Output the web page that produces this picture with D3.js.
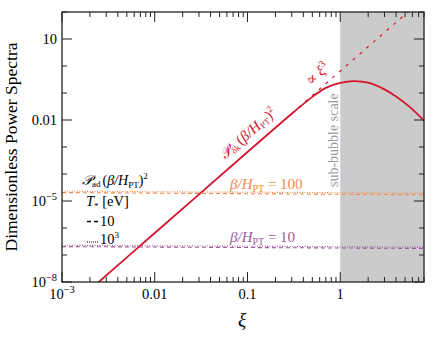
<!DOCTYPE html>
<html>
<head>
<meta charset="utf-8">
<script src="https://cdn.jsdelivr.net/npm/d3@7"></script>
<style>
  body { margin: 0; background: #fff; }
</style>
</head>
<body>
<svg width="436" height="337" font-family="'Liberation Serif', 'Times New Roman', 'DejaVu Serif', serif"></svg>
<script>
// values
var xiTicks = [1e-3, 0.01, 0.1, 1];
var xiTickLabels = ["10|-3", "0.01", "0.1", "1"];
var specTicks = [1e-8, 1e-5, 0.01, 10];
var specTickLabels = ["10|-8", "10|-5", "0.01", "10"];

// P_delta (beta/H)^2, solid red
var curveXi  = [0.002, 0.01, 0.1, 0.3, 0.5, 0.7, 1.0, 1.4, 2.0, 3.0, 4.0, 5.6, 8.0];
var curveVal = [5.2e-9, 6.5e-7, 6.5e-4, 0.0170, 0.072, 0.155, 0.235, 0.277, 0.24, 0.136, 0.074, 0.0306, 0.0095];

// asymptote ∝ xi^3, dashed red
var slopeXi  = [0.3, 5.4];
var slopeVal = [0.0176, 102];

// P_ad (beta/H)^2 flat lines, at the two ends of the range
var flatXi = [1e-3, 8];
var ad100T10   = [2.05e-5, 1.7e-5];
var ad100T1000 = [2.3e-5, 1.95e-5];
var ad10T10    = [2.05e-7, 1.75e-7];
var ad10T1000  = [2.3e-7, 1.95e-7];

var subBubbleFrom = 1;

var red = "#d5152e", orange = "#f4884c", purple = "#9c5a9b";

var svg = d3.select("svg");
var margin = {left: 62, right: 12, top: 12, bottom: 55};
var width = 436, height = 337;

var x = d3.scaleLog().domain([1e-3, 8]).range([margin.left, width - margin.right]);
var y = d3.scaleLog().domain([1e-8, 100]).range([height - margin.bottom, margin.top]);

var x0 = x.range()[0], x1 = x.range()[1], y0 = y.range()[0], y1 = y.range()[1];

svg.append("clipPath").attr("id", "clip")
  .append("rect").attr("x", x0).attr("y", y1).attr("width", x1 - x0).attr("height", y0 - y1);

var plot = svg.append("g").attr("clip-path", "url(#clip)");

// shaded sub-bubble region
plot.append("rect")
  .attr("x", x(subBubbleFrom)).attr("y", y1)
  .attr("width", x1 - x(subBubbleFrom)).attr("height", y0 - y1)
  .attr("fill", "#cbcbcb");

var line = d3.line().x(function(d) { return x(d[0]); }).y(function(d) { return y(d[1]); });

function flat(vals, color, dash) {
  plot.append("path")
    .datum(d3.zip(flatXi, vals))
    .attr("d", line)
    .attr("fill", "none")
    .attr("stroke", color)
    .attr("stroke-width", 1.1)
    .attr("stroke-dasharray", dash);
}
flat(ad100T10, orange, "4,3");
flat(ad100T1000, orange, "1,1.5");
flat(ad10T10, purple, "4,3");
flat(ad10T1000, purple, "1,1.5");

plot.append("path")
  .datum(d3.zip(slopeXi, slopeVal))
  .attr("d", line)
  .attr("fill", "none")
  .attr("stroke", red)
  .attr("stroke-width", 1.2)
  .attr("stroke-dasharray", "3,6");

plot.append("path")
  .datum(d3.zip(curveXi, curveVal))
  .attr("d", line.curve(d3.curveCatmullRom))
  .attr("fill", "none")
  .attr("stroke", red)
  .attr("stroke-width", 1.8);

// frame
svg.append("rect")
  .attr("x", x0).attr("y", y1).attr("width", x1 - x0).attr("height", y0 - y1)
  .attr("fill", "none").attr("stroke", "#222").attr("stroke-width", 1.3);

// ticks
var xMinor = [];
[1e-3, 1e-2, 1e-1, 1].forEach(function(d) {
  for (var k = 2; k <= 9; k++) if (d * k <= 8) xMinor.push(d * k);
});
var yMinor = d3.range(-8, 3).map(function(e) { return Math.pow(10, e); })
  .filter(function(v) { return specTicks.indexOf(v) < 0; });

var ticks = svg.append("g").attr("stroke", "#222").attr("stroke-width", 1);
function xt(vals, len) {
  vals.forEach(function(v) {
    ticks.append("line").attr("x1", x(v)).attr("x2", x(v)).attr("y1", y0).attr("y2", y0 - len);
    ticks.append("line").attr("x1", x(v)).attr("x2", x(v)).attr("y1", y1).attr("y2", y1 + len);
  });
}
function yt(vals, len) {
  vals.forEach(function(v) {
    ticks.append("line").attr("y1", y(v)).attr("y2", y(v)).attr("x1", x0).attr("x2", x0 + len);
    ticks.append("line").attr("y1", y(v)).attr("y2", y(v)).attr("x1", x1).attr("x2", x1 - len);
  });
}
xt(xiTicks, 10); xt(xMinor, 5);
yt(specTicks, 10); yt(yMinor, 5);

function powLabel(sel, s) {
  var p = s.split("|");
  sel.text(p[0]);
  if (p.length > 1) sel.append("tspan").attr("dy", -6).attr("font-size", "0.72em").text("\u2212" + p[1].replace("-", ""));
}

xiTicks.forEach(function(v, i) {
  var t = svg.append("text").attr("x", x(v)).attr("y", 299).attr("text-anchor", "middle").attr("font-size", 14.5);
  powLabel(t, xiTickLabels[i]);
});
specTicks.forEach(function(v, i) {
  var t = svg.append("text").attr("x", 57).attr("y", y(v) + 4.5).attr("text-anchor", "end").attr("font-size", 14.5);
  powLabel(t, specTickLabels[i]);
});

// axis titles
svg.append("text")
  .attr("transform", "translate(17," + ((y0 + y1) / 2) + ") rotate(-90)")
  .attr("text-anchor", "middle").attr("font-size", 17.5)
  .text("Dimensionless Power Spectra");
svg.append("text")
  .attr("x", 242).attr("y", 326).attr("text-anchor", "middle")
  .attr("font-size", 19).attr("font-style", "italic").text("\u03be");

// sub-bubble label
svg.append("text")
  .attr("transform", "translate(" + (x(subBubbleFrom) - 2) + ",187) rotate(-90)")
  .attr("font-size", 14).attr("fill", "#9a9a9a").text("sub-bubble scale");

// red curve labels
var ang = -41.3;
var tp = svg.append("text")
  .attr("transform", "translate(225,160) rotate(" + ang + ")")
  .attr("font-size", 15).attr("fill", red);
tp.append("tspan").attr("font-style", "italic").text("\ud835\udcab");
tp.append("tspan").attr("font-size", 9).attr("dy", 2).text("\u03b4k");
tp.append("tspan").attr("dy", -2).attr("dx", 2).text("(");
tp.append("tspan").attr("font-style", "italic").text("\u03b2/H");
tp.append("tspan").attr("font-size", 9).attr("dy", 2).text("PT");
tp.append("tspan").attr("dy", -2).text(")");
tp.append("tspan").attr("font-size", 9).attr("dy", -6).text("2");

var tc = svg.append("text")
  .attr("transform", "translate(311,86) rotate(" + ang + ")")
  .attr("font-size", 15).attr("fill", red);
tc.append("tspan").text("\u221d ");
tc.append("tspan").attr("font-style", "italic").text("\u03be");
tc.append("tspan").attr("font-size", 10).attr("dy", -6).text("3");

// beta/H labels
function betaLabel(yy, val, color) {
  var t = svg.append("text").attr("x", 230).attr("y", yy).attr("font-size", 15).attr("fill", color);
  t.append("tspan").attr("font-style", "italic").text("\u03b2/H");
  t.append("tspan").attr("font-size", 10).attr("dy", 3).text("PT");
  t.append("tspan").attr("dy", -3).text(" = " + val);
}
betaLabel(189, "100", orange);
betaLabel(241.5, "10", purple);

// legend
var lg = svg.append("text").attr("x", 82).attr("y", 185).attr("font-size", 14);
lg.append("tspan").attr("font-style", "italic").text("\ud835\udcab");
lg.append("tspan").attr("font-size", 9).attr("dy", 2).text("ad");
lg.append("tspan").attr("dy", -2).attr("dx", 2).text("(");
lg.append("tspan").attr("font-style", "italic").text("\u03b2/H");
lg.append("tspan").attr("font-size", 9).attr("dy", 3).text("PT");
lg.append("tspan").attr("dy", -3).text(")");
lg.append("tspan").attr("font-size", 9).attr("dy", -6).text("2");

var lt = svg.append("text").attr("x", 86).attr("y", 206).attr("font-size", 14.5);
lt.append("tspan").attr("font-style", "italic").text("T");
lt.append("tspan").attr("font-size", 9).attr("dy", 3).text("*");
lt.append("tspan").attr("dy", -3).text(" [eV]");

svg.append("line").attr("x1", 87).attr("x2", 99).attr("y1", 221.5).attr("y2", 221.5)
  .attr("stroke", "#000").attr("stroke-width", 1.6).attr("stroke-dasharray", "4,3");
svg.append("text").attr("x", 100).attr("y", 225.5).attr("font-size", 14.5).text("10");

svg.append("line").attr("x1", 87).attr("x2", 99).attr("y1", 242).attr("y2", 242)
  .attr("stroke", "#000").attr("stroke-width", 1.2).attr("stroke-dasharray", "1,1");
var l3 = svg.append("text").attr("x", 100).attr("y", 244).attr("font-size", 14.5).text("10");
l3.append("tspan").attr("font-size", 9).attr("dy", -6).text("3");
</script>
</body>
</html>
